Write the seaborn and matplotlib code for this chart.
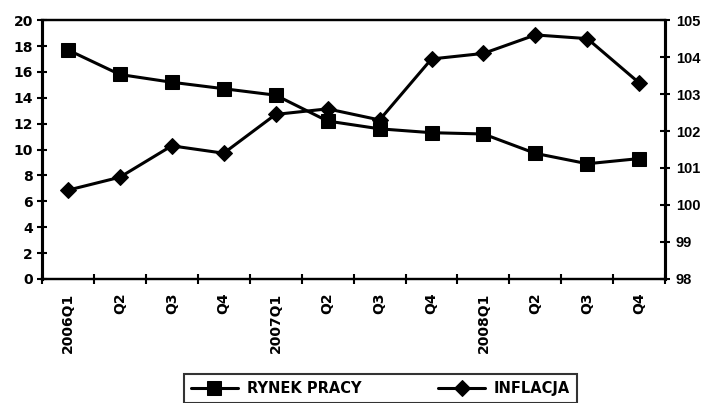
import matplotlib
matplotlib.use("Agg")
import matplotlib.pyplot as plt
import matplotlib.ticker as mticker
import seaborn as sns
import pandas as pd
import numpy as np

quarters = ["2006Q1", "Q2", "Q3", "Q4", "2007Q1", "Q2", "Q3", "Q4",
            "2008Q1", "Q2", "Q3", "Q4"]
rynek_pracy = [17.7, 15.8, 15.2, 14.7, 14.2, 12.2, 11.6, 11.3, 11.2, 9.7, 8.9, 9.3]
inflacja = [100.4, 100.75, 101.6, 101.4, 102.45, 102.6, 102.3, 103.95, 104.1,
            104.6, 104.5, 103.3]

sns.set_theme(style="white")
plt.rcParams["font.family"] = ["DejaVu Sans"]
plt.rcParams["font.weight"] = "bold"
plt.rcParams["text.color"] = "black"
plt.rcParams["xtick.color"] = "black"
plt.rcParams["ytick.color"] = "black"
plt.rcParams["xtick.labelcolor"] = "black"
plt.rcParams["ytick.labelcolor"] = "black"

df = pd.DataFrame({"pos": np.arange(len(quarters)),
                   "rynek": rynek_pracy, "infl": inflacja})

fig = plt.figure(figsize=(7.1, 4.03), dpi=100)
ax = fig.add_axes([0.059, 0.308, 0.878, 0.642])
ax2 = ax.twinx()

sns.lineplot(data=df, x="pos", y="rynek", ax=ax, color="black", linewidth=2.2,
             marker="s", markersize=10, markeredgecolor="black",
             label="RYNEK PRACY", legend=False)
sns.lineplot(data=df, x="pos", y="infl", ax=ax2, color="black", linewidth=2.2,
             marker="D", markersize=8.5, markeredgecolor="black",
             label="INFLACJA", legend=False)

n = len(quarters)
ax.set_xlim(-0.5, n - 0.5)
ax.set_ylim(0, 20)
ax2.set_ylim(98, 105)
ax.set_yticks(np.arange(0, 21, 2))
ax2.set_yticks(np.arange(98, 106, 1))
ax.set_xlabel("")
ax.set_ylabel("")
ax2.set_ylabel("")

# category labels at centres, tick marks at category boundaries
ax.set_xticks(np.arange(n))
ax.set_xticklabels(quarters, rotation=90, fontsize=10, fontweight="bold",
                   family="DejaVu Sans", color="black")
ax.xaxis.set_minor_locator(mticker.FixedLocator(np.arange(-0.5, n, 1.0)))
ax.tick_params(axis="x", which="major", length=0, pad=10)
ax.tick_params(axis="x", which="minor", length=7, width=1.5, direction="inout",
               bottom=True, color="black")
ax.tick_params(axis="y", length=7, width=1.5, direction="inout", left=True,
               labelsize=10, pad=3, color="black", labelcolor="black")
ax2.tick_params(axis="y", length=7, width=1.5, direction="inout", right=True,
                labelsize=10.5, pad=4, color="black", labelcolor="black")
for lab in ax.get_yticklabels():
    lab.set_fontweight("bold")
    lab.set_family("DejaVu Sans")
for lab in ax2.get_yticklabels():
    lab.set_fontweight("bold")
    lab.set_family("Liberation Sans")

for a in (ax, ax2):
    for side, sp in a.spines.items():
        sp.set_color("black")
        sp.set_visible(True)
    a.spines["left"].set_linewidth(2.2)
    a.spines["right"].set_linewidth(2.2)
    a.spines["top"].set_linewidth(1.6)
    a.spines["bottom"].set_linewidth(1.6)
    a.grid(False)

h1, l1 = ax.get_legend_handles_labels()
h2, l2 = ax2.get_legend_handles_labels()
leg = fig.legend(h1 + h2, l1 + l2, loc="upper center",
                 bbox_to_anchor=(0.536, 0.073), ncol=2, frameon=True,
                 fancybox=False, edgecolor="black",
                 handlelength=3.2, handletextpad=0.6, columnspacing=5.3,
                 borderpad=0.5, borderaxespad=0.0,
                 prop={"weight": "bold", "size": 10.5, "family": "DejaVu Sans"})
leg.get_frame().set_linewidth(1.5)
for t in leg.get_texts():
    t.set_color("black")

fig.savefig("out.png", dpi=100)
